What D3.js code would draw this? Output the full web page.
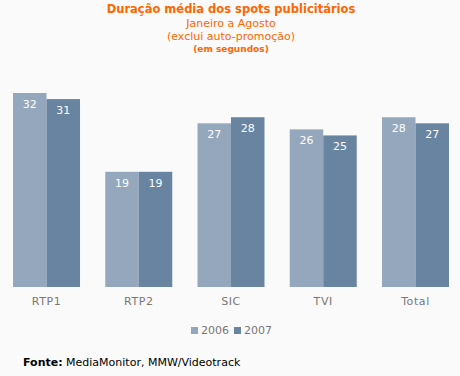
<!DOCTYPE html>
<html>
<head>
<meta charset="utf-8">
<script src="https://cdn.jsdelivr.net/npm/d3@7"></script>
<style>
  body { margin: 0; background: #fafafa; }
  svg { display: block; font-family: "DejaVu Sans", Verdana, sans-serif; }
</style>
</head>
<body>
<div id="chart"></div>
<script>
const categories = ["RTP1", "RTP2", "SIC", "TVI", "Total"];
const years = ["2006", "2007"];
const values2006 = [32, 19, 27, 26, 28];
const values2007 = [31, 19, 28, 25, 27];

const width = 460;
const height = 376;
const colors = { "2006": "#95a7bd", "2007": "#6884a1" };
const orange = "#ff6600";

const svg = d3.select("#chart")
  .append("svg")
  .attr("width", width)
  .attr("height", height);

svg.append("rect")
  .attr("width", width)
  .attr("height", height)
  .attr("fill", "#fafafa");

// titres
svg.append("text")
  .attr("x", 231).attr("y", 13)
  .attr("text-anchor", "middle")
  .attr("fill", orange)
  .attr("font-weight", "bold")
  .attr("font-size", "11.5px")
  .text("Duração média dos spots publicitários");

svg.append("text")
  .attr("x", 231).attr("y", 27)
  .attr("text-anchor", "middle")
  .attr("fill", orange)
  .attr("font-size", "11px")
  .text("Janeiro a Agosto");

svg.append("text")
  .attr("x", 231).attr("y", 40)
  .attr("text-anchor", "middle")
  .attr("fill", orange)
  .attr("font-size", "11px")
  .text("(exclui auto-promoção)");

svg.append("text")
  .attr("x", 231).attr("y", 52)
  .attr("text-anchor", "middle")
  .attr("fill", orange)
  .attr("font-weight", "bold")
  .attr("font-size", "9px")
  .text("(em segundos)");

// scales
const baseline = 287;
const x = d3.scaleBand()
  .domain(categories)
  .range([0.4, 461.6])
  .paddingInner(0.2737)
  .paddingOuter(0.1368);

const xYear = d3.scaleBand()
  .domain(years)
  .range([0, x.bandwidth()]);

const y = d3.scaleLinear()
  .domain([0, 32])
  .range([baseline, 93]);

const rows = categories.map((c, i) => ({
  cat: c,
  vals: [
    { year: "2006", v: values2006[i] },
    { year: "2007", v: values2007[i] }
  ]
}));

const groups = svg.selectAll("g.grp")
  .data(rows)
  .join("g")
  .attr("class", "grp")
  .attr("transform", d => `translate(${x(d.cat)},0)`);

groups.selectAll("rect")
  .data(d => d.vals)
  .join("rect")
  .attr("x", d => xYear(d.year))
  .attr("y", d => y(d.v))
  .attr("width", xYear.bandwidth())
  .attr("height", d => baseline - y(d.v))
  .attr("fill", d => colors[d.year]);

groups.selectAll("text.val")
  .data(d => d.vals)
  .join("text")
  .attr("class", "val")
  .attr("x", d => xYear(d.year) + xYear.bandwidth() / 2)
  .attr("y", d => y(d.v) + 15)
  .attr("text-anchor", "middle")
  .attr("fill", "white")
  .attr("font-size", "11px")
  .text(d => d.v);

// axe x
const xAxis = svg.append("g")
  .attr("transform", `translate(0,${baseline})`)
  .call(d3.axisBottom(x).tickSize(0).tickPadding(10));
xAxis.select(".domain").remove();
xAxis.selectAll("text")
  .attr("fill", "#777")
  .attr("font-size", "11px")
  .attr("letter-spacing", "0.6px")
  .attr("font-family", "DejaVu Sans, Verdana, sans-serif");

// légende
const legendItems = [
  { year: "2006", x: 191 },
  { year: "2007", x: 234 }
];
legendItems.forEach(item => {
  svg.append("rect")
    .attr("x", item.x).attr("y", 327)
    .attr("width", 7).attr("height", 7)
    .attr("fill", colors[item.year]);
  svg.append("text")
    .attr("x", item.x + 10).attr("y", 334)
    .attr("fill", "#777")
    .attr("font-size", "11px")
    .text(item.year);
});

// source
const src = svg.append("text")
  .attr("x", 23).attr("y", 366)
  .attr("font-size", "11px")
  .attr("fill", "#000");
src.append("tspan").attr("font-weight", "bold").text("Fonte:");
src.append("tspan").text(" MediaMonitor, MMW/Videotrack");
</script>
</body>
</html>
